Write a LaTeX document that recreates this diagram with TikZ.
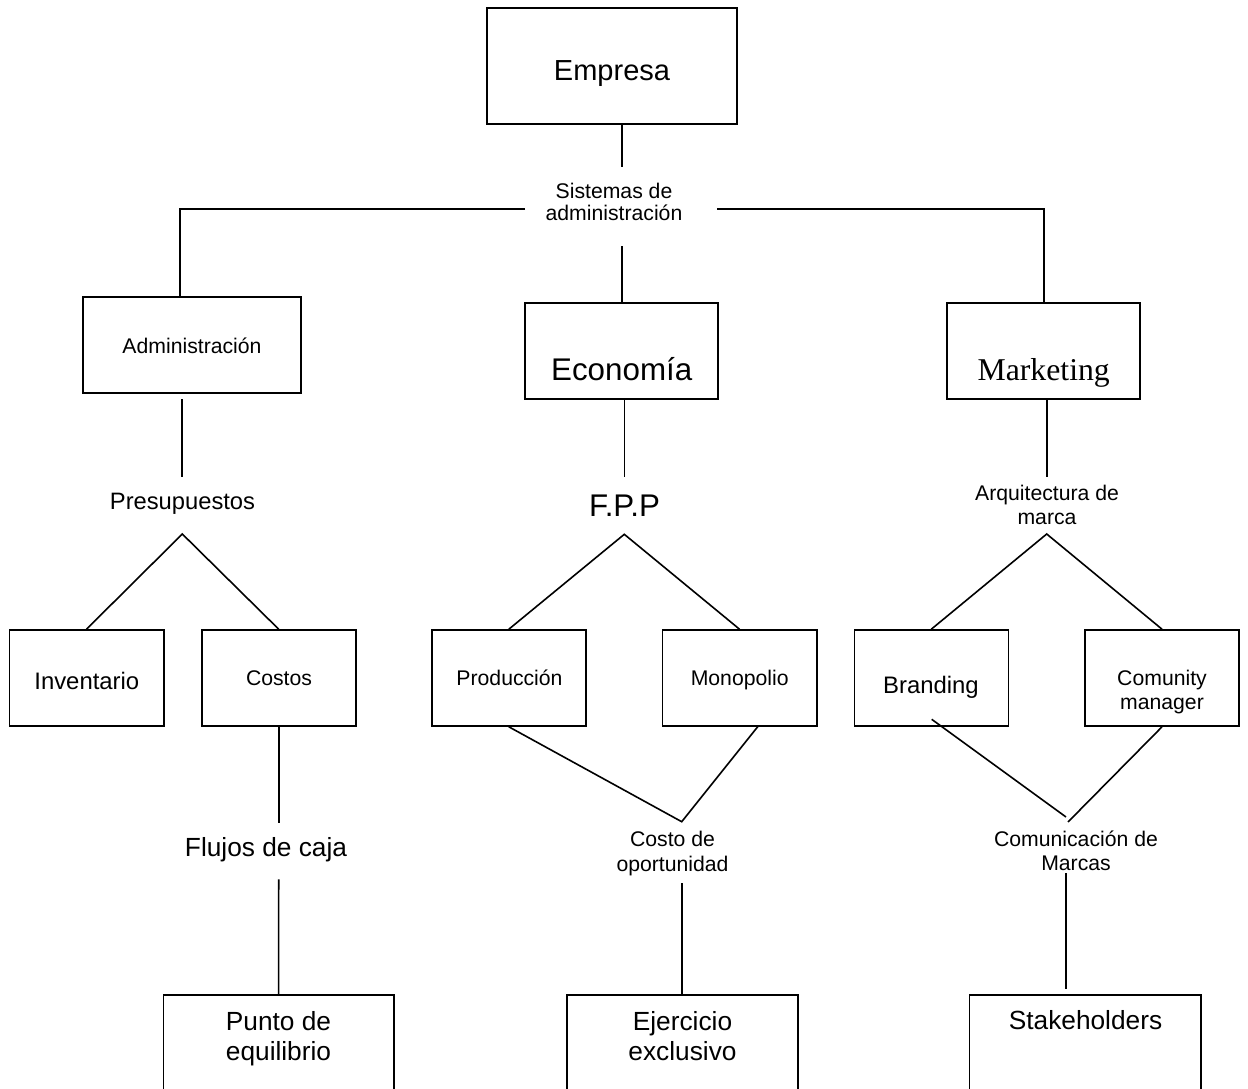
\documentclass[tikz,border=0pt]{standalone}
\usepackage{fontspec}
\setmainfont{Liberation Sans}
\newfontfamily\seriffam{Liberation Serif}
\usetikzlibrary{fit}
\begin{document}
\begin{tikzpicture}[x=0.75pt,y=-0.75pt,
  box/.style={draw,line width=1.2pt,inner sep=0pt,rectangle},
  conn/.style={line width=1.2pt},
  txt/.style={inner sep=0pt,anchor=base,align=center},
  sA/.style={txt,font=\fontsize{15.9}{17.8}\selectfont},
  sB/.style={txt,font=\fontsize{17.9}{19.8}\selectfont},
  sC/.style={txt,font=\fontsize{19.7}{22}\selectfont},
  sD/.style={txt,font=\fontsize{21.75}{24}\selectfont},
  sE/.style={txt,font=\fontsize{23.5}{26}\selectfont},
  sM/.style={txt,font=\seriffam\fontsize{23.8}{26}\selectfont}]
\clip (0,0) rectangle (1248,1088);
\fill[white] (0,0) rectangle (1248,1088);
% boxes
\node[box,fit={(487,8) (737,124)}] (emp) {};
\node[box,fit={(83,297) (301,393)}] (adm) {};
\node[box,fit={(525,303) (718,399)}] (eco) {};
\node[box,fit={(947,303) (1140,399)}] (mkt) {};
\node[box,fit={(9.3,630) (163.7,726)}] (inv) {};
\node[box,fit={(201.7,630) (355.7,726)}] (cos) {};
\node[box,fit={(431.7,630) (586,726)}] (pro) {};
\node[box,fit={(662.3,630) (816.7,726)}] (mon) {};
\node[box,fit={(854.3,630) (1008.3,726)}] (bra) {};
\node[box,fit={(1085,630) (1239,726)}] (com) {};
\node[box,fit={(163.3,995) (394,1110)}] (pun) {};
\node[box,fit={(566.7,995) (797.7,1110)}] (eje) {};
\node[box,fit={(969.3,995) (1200.7,1110)}] (sta) {};
% texts (multi-line nodes anchored at the baseline of their last line)
\node[sD] (empT) at (612,80) {Empresa};
\node[txt,font=\fontsize{15.9}{16.5}\selectfont] (sisT) at (614,220.5) {Sistemas de\\administración};
\node[sA] (admT) at (192,353.3) {Administración};
\node[sE] (ecoT) at (621.7,380.7) {Economía};
\node[sM] (mktT) at (1043.7,380.7) {Marketing};
\node[txt,font=\fontsize{17.8}{19.8}\selectfont] (preT) at (182.5,509.3) {Presupuestos};
\node[sE] (fppT) at (624.5,516) {F.P.P};
\node[sA] (arqT) at (1047,524.3) {Arquitectura de\\marca};
\node[sB] (invT) at (86.8,689.3) {Inventario};
\node[sA] (cosT) at (279,685) {Costos};
\node[sA] (proT) at (509.5,685) {Producción};
\node[sA] (monT) at (739.7,685) {Monopolio};
\node[sB] (braT) at (931,693.3) {Branding};
\node[sA] (comT) at (1162,709.3) {Comunity\\manager};
\node[sC] (fluT) at (266,856.7) {Flujos de caja};
\node[txt,font=\fontsize{15.9}{18.7}\selectfont] (cstT) at (672.5,871.7) {Costo de\\oportunidad};
\node[sA] (cmmT) at (1076,870.7) {Comunicación de\\Marcas};
\node[sC] (punT) at (278.5,1060) {Punto de\\equilibrio};
\node[sC] (ejeT) at (682.5,1060) {Ejercicio\\exclusivo};
\node[sC] (staT) at (1085.5,1029.3) {Stakeholders};
% coordinates
\coordinate (e1) at (622,167);
\coordinate (hlL) at (525,209);
\coordinate (hlR) at (717,209);
\coordinate (cL) at (180,209);
\coordinate (cR) at (1044,209);
\coordinate (mid) at (622,246);
\coordinate (a1) at (182,399.3);
\coordinate (a2) at (182,476.7);
\coordinate (pA) at (182.3,534);
\coordinate (e2) at (624.3,399.3);
\coordinate (e3) at (624.3,476.7);
\coordinate (fA) at (624.3,534.3);
\coordinate (m1) at (1046.7,399.3);
\coordinate (m2) at (1046.7,476.7);
\coordinate (mA) at (1046.7,534);
\coordinate (f1) at (278.7,822.7);
\coordinate (f2) at (278.7,879.3);
\coordinate (monB) at (758.3,726);
\coordinate (cV) at (681.7,821.7);
\coordinate (c1) at (681.7,883.3);
\coordinate (braB) at (931.7,719.3);
\coordinate (bV) at (1066,817);
\coordinate (bV2) at (1068,822);
\coordinate (k1) at (1066,873.3);
\coordinate (k2) at (1066,989.3);
% connectors
\draw[conn] (emp.south -| e1) -- (e1);
\draw[conn] (hlL) -- (cL) -- (cL |- adm.north);
\draw[conn] (hlR) -- (cR) -- (cR |- mkt.north);
\draw[conn] (mid) -- (mid |- eco.north);
\draw[conn] (a1) -- (a2);
\draw[conn] (inv.north) -- (pA) -- (cos.north);
\draw[conn] (e2) -- (e3);
\draw[conn] (pro.north) -- (fA) -- (mon.north);
\draw[conn] (m1) -- (m2);
\draw[conn] (bra.north) -- (mA) -- (com.north);
\draw[conn] (cos.south) -- (f1);
\draw[conn] (f2) -- (pun.north);
\draw[conn] (pro.south) -- (cV) -- (monB);
\draw[conn] (c1) -- (c1 |- eje.north);
\draw[conn] (braB) -- (bV);
\draw[conn] (com.south) -- (bV2);
\draw[conn] (k1) -- (k2);
\end{tikzpicture}
\end{document}
